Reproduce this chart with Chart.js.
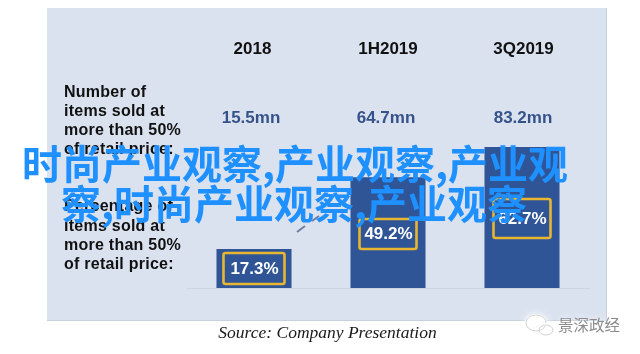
<!DOCTYPE html>
<html>
<head>
<meta charset="utf-8">
<style>
  html, body { margin: 0; padding: 0; background: #fff; }
  #wrap { position: relative; width: 640px; height: 354px; overflow: hidden; }
</style>
<script src="https://cdn.jsdelivr.net/npm/chart.js@4"></script>
</head>
<body>
<div id="wrap"><canvas id="chart" width="640" height="354"></canvas></div>
<script>
const categories = ["2018", "1H2019", "3Q2019"];
const itemsSold = ["15.5mn", "64.7mn", "83.2mn"];
const percentSold = [17.3, 49.2, 62.7];
const itemsLabel = ["Number of", "items sold at", "more than 50%", "of retail price:"];
const percentLabel = ["Percentage of", "items sold at", "more than 50%", "of retail price:"];
const sourceText = "Source: Company Presentation";
const brandText = "景深政经";
const overlayLines = ["时尚产业观察,产业观察,产业观", "察,时尚产业观察,产业观察"];

// gold boxes around the percentages: top/height in px, one per bar
const boxTop = [253, 219, 199];
const boxHeight = [31, 30, 39];
const boxWidth = [64, 60, 60];
const boxTextY = [269, 234, 219];
// the text columns do not sit exactly on the bar centres
const headOffset = [-1.5, 0, 1.5];
const valueOffset = [-3, -2, 1];

const SANS = '"Liberation Sans", Arial, sans-serif';

const panelPlugin = {
  id: "panel",
  beforeDraw(chart) {
    const ctx = chart.ctx;
    ctx.save();
    ctx.fillStyle = "#ffffff";
    ctx.fillRect(0, 0, 640, 354);
    ctx.fillStyle = "#c9d0dc";
    ctx.fillRect(47, 8, 560, 313);
    ctx.fillStyle = "#dae2f0";
    ctx.fillRect(47, 8, 559, 312);
    ctx.restore();
  },
};

function drawLines(ctx, lines, x, y, step) {
  lines.forEach((line, i) => ctx.fillText(line, x, y + i * step));
}

// little wechat style bubbles next to the brand name
function drawBrandIcon(ctx) {
  ctx.save();
  ctx.shadowColor = "#ffffff";
  ctx.shadowBlur = 8;
  ctx.fillStyle = "#ffffff";
  ctx.beginPath();
  ctx.ellipse(536, 323, 11, 9, 0, 0, Math.PI * 2);
  ctx.ellipse(546, 330, 8, 6, 0, 0, Math.PI * 2);
  ctx.fill();
  ctx.shadowBlur = 0;
  ctx.strokeStyle = "#d2d2d2";
  ctx.lineWidth = 1;
  ctx.beginPath();
  ctx.ellipse(536, 323, 10, 8, 0, 0.4, Math.PI * 2);
  ctx.stroke();
  ctx.beginPath();
  ctx.ellipse(546, 330, 7, 5, 0, 0, Math.PI * 2);
  ctx.stroke();
  ctx.restore();
}

const textPlugin = {
  id: "texts",
  afterDatasetsDraw(chart) {
    const ctx = chart.ctx;
    const x = chart.scales.x;
    ctx.save();
    ctx.textBaseline = "middle";

    // left hand row titles
    ctx.fillStyle = "#111111";
    ctx.font = `bold 16px ${SANS}`;
    ctx.letterSpacing = "0.25px";
    ctx.textAlign = "left";
    drawLines(ctx, itemsLabel, 64, 93, 18.8);
    drawLines(ctx, percentLabel, 64, 207, 19.3);
    ctx.letterSpacing = "0px";

    // column heads and first row
    ctx.textAlign = "center";
    categories.forEach((c, i) => {
      ctx.fillStyle = "#111111";
      ctx.font = `bold 17px ${SANS}`;
      ctx.fillText(c, x.getPixelForValue(i) + headOffset[i], 49.5);
      ctx.fillStyle = "#35528a";
      ctx.font = `bold 17px ${SANS}`;
      ctx.fillText(itemsSold[i], x.getPixelForValue(i) + valueOffset[i], 118);
    });

    // percentage boxes
    percentSold.forEach((v, i) => {
      const cx = x.getPixelForValue(i);
      ctx.beginPath();
      ctx.roundRect(cx - boxWidth[i] / 2 + 1.5, boxTop[i], boxWidth[i] - 3, boxHeight[i], 2);
      ctx.lineWidth = 2.6;
      ctx.strokeStyle = "#e8b631";
      ctx.stroke();
      ctx.fillStyle = "#ffffff";
      ctx.font = `bold 17px ${SANS}`;
      ctx.fillText(v.toFixed(1) + "%", cx + 0.5, boxTextY[i]);
    });

    // two dashes of the arrow left in the picture
    ctx.strokeStyle = "#6f7da3";
    ctx.lineWidth = 2;
    ctx.beginPath();
    ctx.moveTo(297, 232);
    ctx.lineTo(305, 226);
    ctx.moveTo(312, 221);
    ctx.lineTo(319, 216);
    ctx.stroke();

    // source line
    ctx.fillStyle = "#1a1a1a";
    ctx.font = `italic 17.5px "Liberation Serif", serif`;
    ctx.fillText(sourceText, 327.5, 333);

    // brand mark in the corner
    drawBrandIcon(ctx);
    ctx.textAlign = "left";
    ctx.font = `15.5px "Noto Sans CJK SC", sans-serif`;
    ctx.shadowColor = "#ffffff";
    ctx.shadowBlur = 6;
    ctx.fillStyle = "#8c8c8c";
    ctx.fillText(brandText, 558, 325);
    ctx.shadowBlur = 0;

    // big overlay text on top of everything
    ctx.fillStyle = "#1e90ff";
    ctx.font = `bold 40px "Noto Sans CJK SC", sans-serif`;
    ctx.fillText(overlayLines[0], 22, 164);
    ctx.fillText(overlayLines[1], 61, 204);
    ctx.restore();
  },
};

new Chart(document.getElementById("chart"), {
  type: "bar",
  data: {
    labels: categories,
    datasets: [
      {
        data: percentSold,
        backgroundColor: "#2f5597",
        barPercentage: 0.56,
        categoryPercentage: 1,
      },
    ],
  },
  options: {
    responsive: false,
    animation: false,
    layout: { padding: { left: 187, right: 51, top: 0, bottom: 66 } },
    plugins: { legend: { display: false }, tooltip: { enabled: false } },
    scales: {
      x: {
        ticks: { display: false },
        grid: { display: false, drawTicks: false },
        border: { display: true, color: "#cdd5e3", width: 1 },
      },
      y: {
        display: false,
        min: 0,
        max: 128,
      },
    },
  },
  plugins: [panelPlugin, textPlugin],
});
</script>
</body>
</html>
